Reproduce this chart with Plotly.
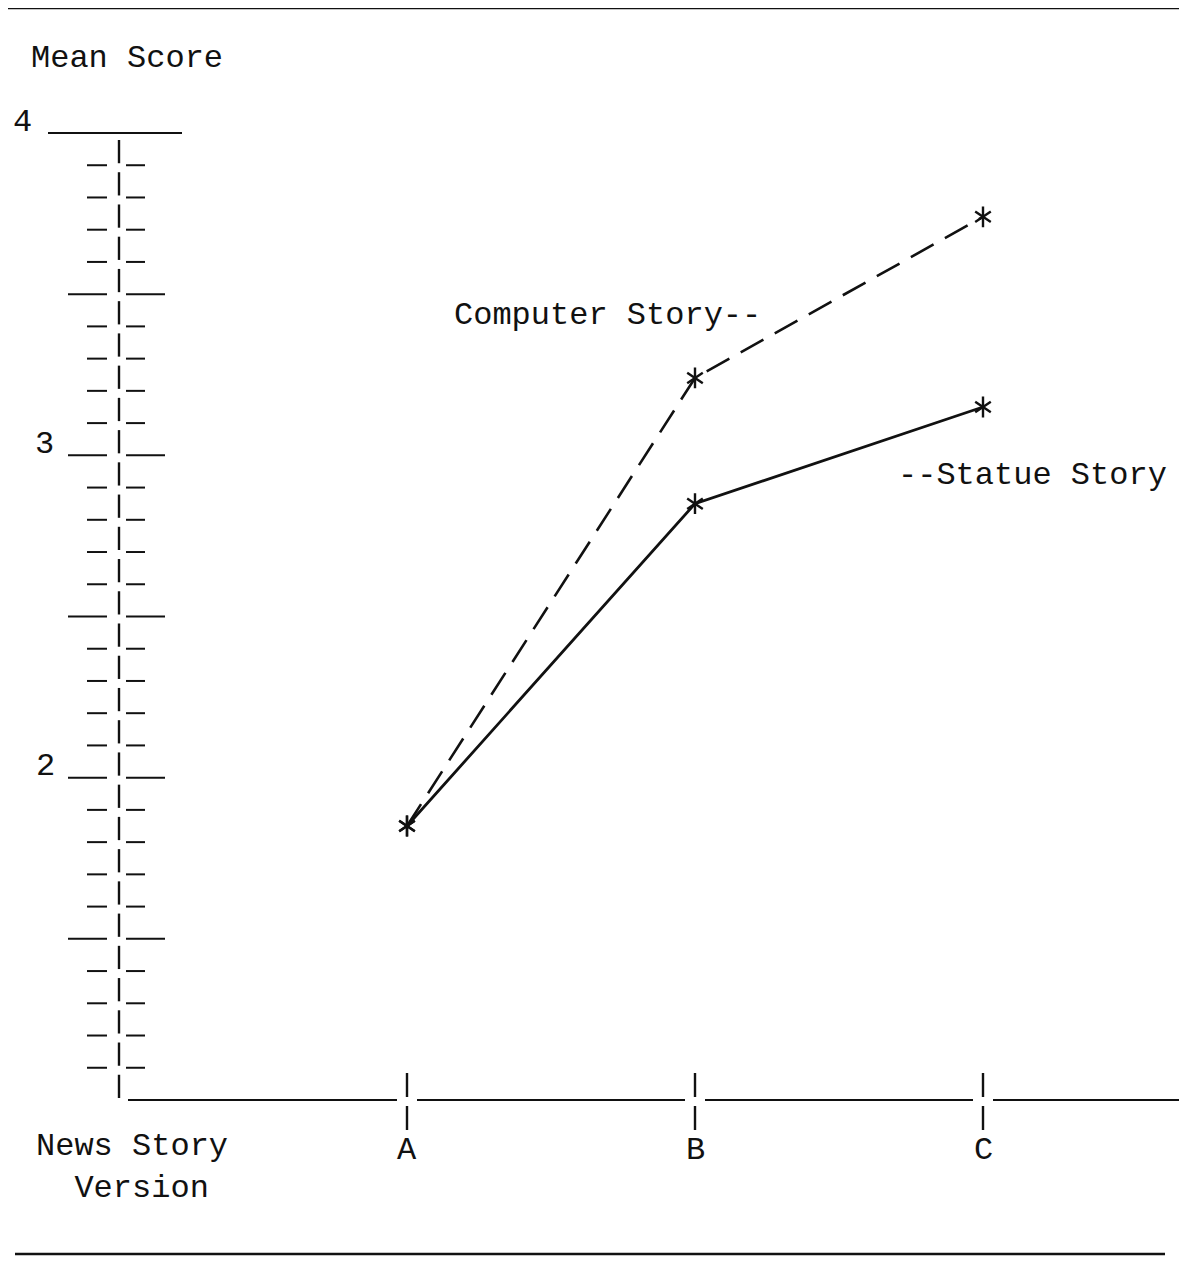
import plotly.graph_objects as go

# ---- data ----
categories = ["A", "B", "C"]
computer_story = [1.85, 3.24, 3.74]
statue_story = [1.85, 2.85, 3.15]
y_tick_labels = ["2", "3", "4"]
y_tick_values = [2, 3, 4]
series_labels = ["Computer Story--", "--Statue Story"]
x_title = "News Story<br>\u00a0\u00a0Version"

# ---- page pixel -> data helpers (layout only) ----
OFF = 8                         # default body margin of the html page
WF, HF = 1171, 1248             # figure size so it fits the window
X0, SX = 119.0, 288.0           # page pixel of x=0, pixels per category
Y4, SY = 133.0, 322.33          # page pixel of y=4, pixels per unit


def dx(p):
    return (p - X0) / SX


def dy(p):
    return 4 - (p - Y4) / SY


FONT = dict(family="Liberation Mono, Courier New, monospace", size=32, color="#111")
INK = "#111"
xpos = [i + 1 for i in range(len(categories))]

fig = go.Figure()

for vals, dash, w in [(computer_story, "26px,13px", 2.6), (statue_story, "solid", 2.8)]:
    fig.add_trace(go.Scatter(
        x=xpos, y=vals, mode="lines+markers",
        line=dict(color=INK, width=w, dash=dash),
        marker=dict(symbol="y-up-open", size=13, color=INK, line=dict(color=INK, width=2.4)),
        showlegend=False, hoverinfo="skip"))
    fig.add_trace(go.Scatter(
        x=xpos, y=vals, mode="markers",
        marker=dict(symbol="y-down-open", size=13, color=INK, line=dict(color=INK, width=2.4)),
        showlegend=False, hoverinfo="skip"))

shapes = []


def seg(x0, y0, x1, y1, w=2.2):
    shapes.append(dict(type="line", xref="x", yref="y", x0=x0, y0=y0, x1=x1, y1=y1,
                       line=dict(color=INK, width=w)))


# top and bottom rules
seg(dx(5), dy(8), dx(1180), dy(8), 2.6)
seg(dx(15), dy(1254), dx(1165), dy(1254), 2.4)

# y axis: typed dashed vertical with tick dashes
ymin, ymax = 1.0, 4.0
n = int(round((ymax - ymin) / 0.1))
for k in range(n):
    lo = ymin + k * 0.1
    hi = lo + 0.1
    seg(0, hi - 7 / SY, 0, lo + 2 / SY, 2.4)
for k in range(1, n + 1):
    yv = ymin + k * 0.1
    if k == n:
        seg(dx(48), yv, dx(182), yv, 2.2)
    elif k % 5 == 0:
        seg(dx(68), yv, dx(107), yv, 2.0)
        seg(dx(126), yv, dx(165), yv, 2.0)
    else:
        seg(dx(87), yv, dx(107), yv, 2.0)
        seg(dx(126), yv, dx(145), yv, 2.0)

# x axis: baseline with gaps at category ticks
gap = 10 / SX
starts = [dx(128)] + [p + gap for p in xpos]
ends = [p - gap for p in xpos] + [dx(1180)]
for a, b in zip(starts, ends):
    seg(a, ymin, b, ymin, 2.0)
for p in xpos:
    seg(p, dy(1073), p, dy(1097), 2.4)
    seg(p, dy(1106), p, dy(1130), 2.4)

annotations = []


def txt(s, x, y, xanchor="center", align="center"):
    annotations.append(dict(text=s, x=x, y=y, xref="x", yref="y", showarrow=False,
                            xanchor=xanchor, yanchor="middle", align=align, font=FONT))


txt("Mean Score", dx(29), dy(58), "left")
label_px = {4: 11, 3: 33, 2: 34}
for lab, v in zip(y_tick_labels, y_tick_values):
    txt(lab, dx(label_px[v]), v + 11 / SY, "left")
for c, p in zip(categories, xpos):
    txt(c, p, dy(1150))
txt(x_title, dx(34), dy(1167), "left", "left")
txt(series_labels[0], dx(452), dy(315), "left")
txt(series_labels[1], dx(896), dy(475), "left")

fig.update_layout(
    width=WF, height=HF, margin=dict(l=0, r=0, t=0, b=0),
    paper_bgcolor="white", plot_bgcolor="white",
    xaxis=dict(range=[dx(OFF), dx(OFF + WF)], visible=False, fixedrange=True),
    yaxis=dict(range=[dy(OFF + HF), dy(OFF)], visible=False, fixedrange=True),
    shapes=shapes, annotations=annotations,
)

fig.write_html("out.html")
